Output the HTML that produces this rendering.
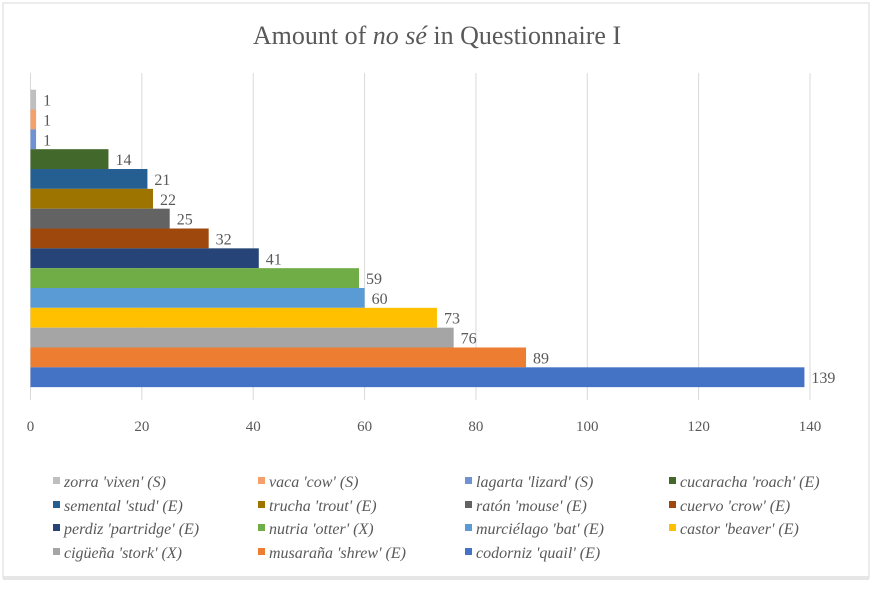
<!DOCTYPE html>
<html><head><meta charset="utf-8"><style>
body{margin:0;background:#fff;}
svg text{font-family:"Liberation Serif",serif;fill:#595959;}
</style></head><body>
<svg width="875" height="584" xmlns="http://www.w3.org/2000/svg">
<rect x="3" y="3" width="866" height="575" fill="#fff" stroke="#d9d9d9"/>
<rect x="3" y="576" width="866" height="4" fill="#e6e6e6"/>
<text x="437" y="44" font-size="26" text-anchor="middle">Amount of <tspan font-style="italic">no sé</tspan> in Questionnaire I</text>
<g id="grid"></g><g id="bars"></g><g id="ticks"></g><g id="legend"></g>
</svg>
<script>
const categories=["zorra 'vixen' (S)","vaca 'cow' (S)","lagarta 'lizard' (S)","cucaracha 'roach' (E)","semental 'stud' (E)","trucha 'trout' (E)","ratón 'mouse' (E)","cuervo 'crow' (E)","perdiz 'partridge' (E)","nutria 'otter' (X)","murciélago 'bat' (E)","castor 'beaver' (E)","cigüeña 'stork' (X)","musaraña 'shrew' (E)","codorniz 'quail' (E)"];
const values=[1,1,1,14,21,22,25,32,41,59,60,73,76,89,139];
const colors=["#bfbfbf","#f4a06b","#6f93d2","#43682b","#255e91","#9e7400","#636363","#9e480e","#264478","#70ad47","#5b9bd5","#ffc000","#a5a5a5","#ed7d31","#4472c4"];
const ticks=[0,20,40,60,80,100,120,140];
const NS="http://www.w3.org/2000/svg";
const x0=30.5,x1=810,yTop=89.7,pitch=19.83;
function xs(v){return x0+(x1-x0)*v/140;}
function ys(i){return yTop+i*pitch;}
function mk(t,a,p){const e=document.createElementNS(NS,t);for(const k in a)e.setAttribute(k,a[k]);p.appendChild(e);return e;}
const g=document.getElementById('grid'),b=document.getElementById('bars'),tk=document.getElementById('ticks'),lg=document.getElementById('legend');
ticks.forEach(t=>{
 const l=mk('line',{x1:xs(t),x2:xs(t),y1:73,y2:400,stroke:'#d9d9d9','stroke-width':1},g);
 
 
 const tx=mk('text',{x:xs(t),y:431,'font-size':15,'text-anchor':'middle'},tk);
 tx.textContent=t;
 
 
});
values.forEach((v,i)=>{
 const r=mk('rect',{x:x0,y:ys(i),width:xs(v)-x0,height:pitch,fill:colors[i]},b);
 
 
 const t=mk('text',{x:xs(v)+7,y:ys(i)+pitch/2+6,'font-size':16},b);
 t.textContent=v;
 
 
});
const colX=[53,258,465,669],rowY=[487,511,534,558];
categories.forEach((c,i)=>{
 const cx=colX[i%4],cy=rowY[Math.floor(i/4)];
 const s=mk('rect',{x:cx,y:cy-10,width:7,height:7,fill:colors[i]},lg);
 
 
 const t=mk('text',{x:cx+11,y:cy,'font-size':16,'font-style':'italic'},lg);
 t.textContent=c;
 
 
});
</script>
</body></html>
